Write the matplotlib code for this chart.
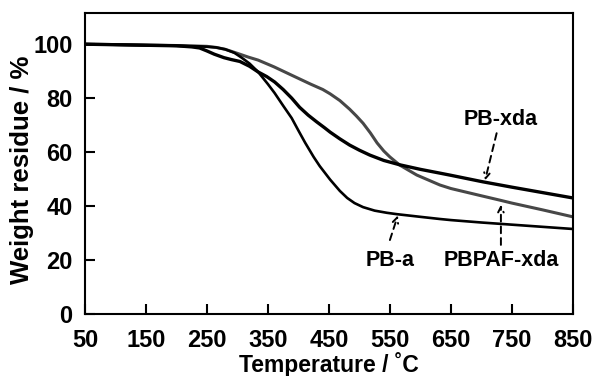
import numpy as np
import matplotlib
matplotlib.use('Agg')
import matplotlib.pyplot as plt

plt.rcParams['font.family'] = ['Liberation Sans', 'DejaVu Sans']
plt.rcParams['font.weight'] = 'bold'

# temperatures (C) and weight residue (%)
t_pbxda = [50, 150, 200, 225, 238, 250, 262, 278, 290, 304, 320, 334, 348, 361, 375,
           389, 402, 416, 430, 443, 452, 468, 484, 500, 517, 540, 566, 600, 632, 650,
           702, 750, 800, 850]
w_pbxda = [100, 99.6, 99.4, 99.0, 98.6, 97.5, 96.3, 95.0, 94.3, 93.6, 91.8, 89.7, 88.0,
           86.0, 83.2, 80.0, 76.6, 73.7, 71.2, 69.0, 67.4, 64.9, 62.6, 60.7, 58.9, 56.9,
           55.3, 53.6, 52.2, 51.4, 49.0, 47.0, 45.0, 43.0]

t_pba = [50, 150, 200, 240, 265, 280, 295, 307, 320, 334, 350, 361, 375, 389, 400,
         411, 425, 435, 452, 468, 480, 492, 506, 525, 545, 561, 600, 632, 650, 700,
         750, 800, 850]
w_pba = [100, 99.6, 99.4, 99.2, 98.8, 98.1, 96.8, 95.0, 92.8, 89.7, 85.2, 81.9, 77.2,
         72.6, 68.0, 63.5, 58.2, 54.8, 49.8, 45.6, 43.0, 41.1, 39.6, 38.3, 37.5, 37.0,
         36.0, 35.2, 34.8, 33.9, 33.1, 32.3, 31.5]

t_pbpaf = [50, 150, 200, 250, 265, 280, 300, 318, 334, 360, 389, 420, 440, 452, 468,
           484, 495, 506, 518, 529, 540, 550, 566, 594, 632, 650, 700, 730, 750, 800, 850]
w_pbpaf = [100, 99.7, 99.5, 99.2, 98.8, 98.1, 96.6, 95.2, 94.1, 91.6, 88.5, 85.2, 83.2,
           81.6, 79.1, 75.9, 73.4, 70.7, 67.1, 63.4, 60.4, 58.2, 55.2, 51.5, 47.8, 46.5,
           43.8, 42.2, 41.1, 38.6, 36.0]

x_ticks = [50, 150, 250, 350, 450, 550, 650, 750, 850]
y_ticks = [0, 20, 40, 60, 80, 100]

fig = plt.figure(figsize=(5.98, 3.76), dpi=100)
ax = fig.add_axes([0.142, 0.165, 0.816, 0.80])

ax.plot(t_pbpaf, w_pbpaf, color='#474747', lw=2.2)
ax.plot(t_pbxda, w_pbxda, color='black', lw=2.4)
ax.plot(t_pba, w_pba, color='black', lw=1.9)

ax.set_xlim(50, 850)
ax.set_ylim(0, 111.5)
ax.set_xticks(x_ticks)
ax.set_yticks(y_ticks)
ax.tick_params(direction='in', length=7, width=1.5, labelsize=17, pad=11)
ax.tick_params(axis='y', pad=9)
for s in ax.spines.values():
    s.set_linewidth(1.5)

ax.set_xlabel('Temperature / ˚C', fontsize=16.5, fontweight='bold')
ax.xaxis.set_label_coords(0.5, -0.128)
ax.set_ylabel('Weight residue / %', fontsize=18.5, fontweight='bold')
ax.yaxis.set_label_coords(-0.105, 0.478)

# labels with dashed arrows
labels = [('PB-xda', (732, 72.2), (725, 67.0), (706, 49.5)),
          ('PB-a', (550, 20), (550, 27.4), (563, 36.5)),
          ('PBPAF-xda', (732, 20), (732, 25.6), (732, 40.5))]
for name, tpos, start, tip in labels:
    ax.text(tpos[0], tpos[1], name, fontsize=15.5, fontweight='bold',
            ha='center', va='center')
    ax.annotate('', xy=tip, xytext=start,
                arrowprops=dict(arrowstyle='->', lw=1.4, ls=(0, (3.5, 2.5)),
                                color='black', shrinkA=0, shrinkB=0))

fig.savefig('out.png', dpi=100)
